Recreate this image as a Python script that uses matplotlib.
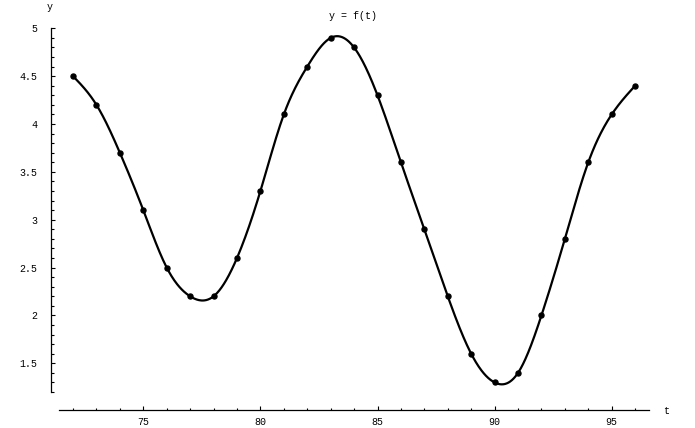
import numpy as np
import matplotlib
matplotlib.use("Agg")
import matplotlib.pyplot as plt
from matplotlib.ticker import FixedLocator

t_vals = [72, 73, 74, 75, 76, 77, 78, 79, 80, 81, 82, 83, 84, 85, 86, 87, 88, 89, 90, 91, 92, 93, 94, 95, 96]
y_vals = [4.5, 4.2, 3.7, 3.1, 2.5, 2.2, 2.2, 2.6, 3.3, 4.1, 4.6, 4.9, 4.8, 4.3, 3.6, 2.9, 2.2, 1.6, 1.3, 1.4, 2.0, 2.8, 3.6, 4.1, 4.4]
x_ticks = [75, 80, 85, 90, 95]
y_ticks = [1.5, 2, 2.5, 3, 3.5, 4, 4.5, 5]
y_tick_labels = ["1.5", "2", "2.5", "3", "3.5", "4", "4.5", "5"]
title = "y = f(t)"
x_label = "t"
y_label = "y"


def natural_spline(x, y, xs):
    x = np.asarray(x, float)
    y = np.asarray(y, float)
    n = len(x)
    h = np.diff(x)
    A = np.zeros((n, n))
    b = np.zeros(n)
    A[0, 0] = 1
    A[-1, -1] = 1
    for i in range(1, n - 1):
        A[i, i - 1] = h[i - 1]
        A[i, i] = 2 * (h[i - 1] + h[i])
        A[i, i + 1] = h[i]
        b[i] = 3 * ((y[i + 1] - y[i]) / h[i] - (y[i] - y[i - 1]) / h[i - 1])
    c = np.linalg.solve(A, b)
    bcoef = (y[1:] - y[:-1]) / h - h * (2 * c[:-1] + c[1:]) / 3
    d = (c[1:] - c[:-1]) / (3 * h)
    idx = np.clip(np.searchsorted(x, xs) - 1, 0, n - 2)
    dx = xs - x[idx]
    return y[idx] + bcoef[idx] * dx + c[idx] * dx ** 2 + d[idx] * dx ** 3


font = "Liberation Mono"
fs = 7.2

fig = plt.figure(figsize=(6.95, 4.28), dpi=100)
ax = fig.add_axes([0, 0, 1, 1])
ax.set_xlim(68.881, 98.557)
ax.set_ylim(0.824, 5.296)

ts = np.linspace(t_vals[0], t_vals[-1], 1000)
ax.plot(ts, natural_spline(t_vals, y_vals, ts), color="black", lw=1.6, solid_capstyle="round")
ax.plot(t_vals, y_vals, "o", color="black", ms=3.6)

for s in ["top", "right"]:
    ax.spines[s].set_visible(False)
ax.spines["left"].set_position(("data", 71.06))
ax.spines["left"].set_bounds(1.203, 5.0)
ax.spines["bottom"].set_position(("data", 1.012))
ax.spines["bottom"].set_bounds(71.40, 96.59)
for s in ["left", "bottom"]:
    ax.spines[s].set_linewidth(0.9)

ax.xaxis.set_major_locator(FixedLocator(x_ticks))
ax.xaxis.set_minor_locator(FixedLocator([v for v in t_vals if v not in x_ticks]))
ax.set_xticklabels([str(v) for v in x_ticks])
ax.yaxis.set_major_locator(FixedLocator(y_ticks))
ax.yaxis.set_minor_locator(FixedLocator(np.round(np.arange(1.2, 5.0, 0.1), 2)))
ax.set_yticklabels(y_tick_labels)

ax.tick_params(which="major", direction="in", length=3.2, width=0.8, labelsize=fs, pad=5)
ax.tick_params(which="minor", direction="in", length=1.8, width=0.8)
ax.tick_params(axis="y", which="major", pad=10)
for lab in ax.get_xticklabels() + ax.get_yticklabels():
    lab.set_family(font)

fig.text(353 / 695, 1 - 16 / 428, title, fontsize=fs, family=font, ha="center", va="center")
fig.text(666 / 695, 1 - 411 / 428, x_label, fontsize=fs, family=font, ha="center", va="center")
fig.text(50 / 695, 1 - 7 / 428, y_label, fontsize=fs, family=font, ha="center", va="center")

fig.savefig("out.png", dpi=100)
